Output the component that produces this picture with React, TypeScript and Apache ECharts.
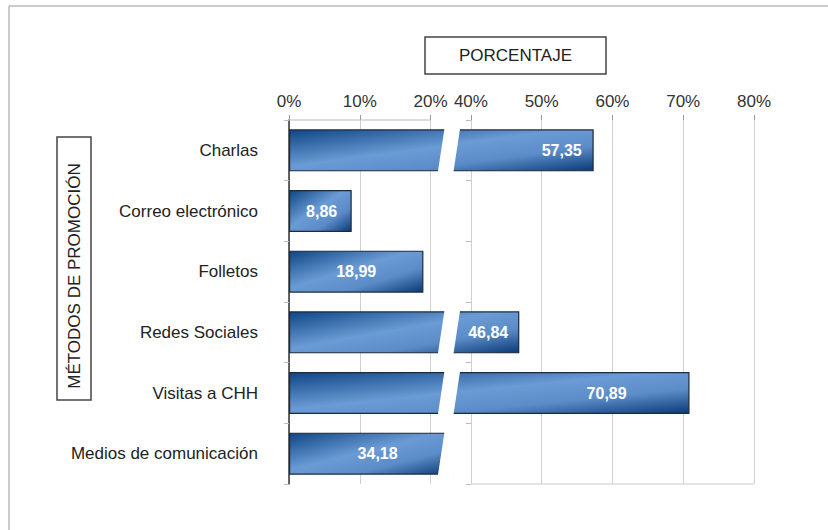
import React, { useEffect, useRef } from 'react';
import * as echarts from 'echarts';

const categories = ['Charlas', 'Correo electrónico', 'Folletos', 'Redes Sociales', 'Visitas a CHH', 'Medios de comunicación'];
const values = [57.35, 8.86, 18.99, 46.84, 70.89, 34.18];
const tickValues = [0, 10, 20, 40, 50, 60, 70, 80];
const breakStart = 21.5;
const breakEnd = 38;
const breakGap = 2.2;
const xTitle = 'PORCENTAJE';
const yTitle = 'MÉTODOS DE PROMOCIÓN';

// label placement inside each bar (style only)
const labelPos = ['89.5%', '52%', '50%', '86.5%', '79.3%', '54%'];
// vertical nudge of category labels (style only)
const catPadBottom = [18, 0, 0, 0, 0, 0];

const FONT = 'Liberation Sans, Arial, sans-serif';
const fmt = (v: number) => v.toFixed(2).replace('.', ',');

export default function App() {
  const ref = useRef<HTMLDivElement>(null);
  useEffect(() => {
    if (!ref.current) return;
    const chart = echarts.init(ref.current, null, { renderer: 'svg' });
    const barGradient = new echarts.graphic.LinearGradient(0, 0, 1, 1, [
      { offset: 0, color: '#0f4686' },
      { offset: 0.45, color: '#6a9bd4' },
      { offset: 0.7, color: '#5b8cc8' },
      { offset: 1, color: '#0a3a76' },
    ]);
    const yAxisBase = {
      type: 'category',
      data: categories.map((c, i) => ({ value: c, textStyle: { padding: [0, 0, catPadBottom[i], 0] } })),
      inverse: true,
    };
    chart.setOption({
      animation: false,
      backgroundColor: '#fff',
      textStyle: { fontFamily: FONT },
      title: {
        text: xTitle,
        left: 425,
        top: 37,
        borderColor: '#444',
        borderWidth: 1.5,
        padding: [10, 34, 10, 34],
        textStyle: { fontSize: 17, fontWeight: 'normal', color: '#222', fontFamily: FONT },
      },
      grid: { left: 289, right: 74, top: 120, bottom: 46, containLabel: false },
      xAxis: {
        type: 'value',
        position: 'top',
        min: 0,
        max: 80,
        interval: 10,
        breaks: [{ start: breakStart, end: breakEnd, gap: breakGap }],
        breakArea: { show: false, expandOnClick: false },
        axisLine: { show: false },
        axisTick: { show: true, inside: false, length: 5, lineStyle: { color: '#999' }, customValues: tickValues },
        axisLabel: {
          margin: 10,
          fontSize: 17,
          color: '#333',
          customValues: tickValues,
          formatter: (v: number) => v + '%',
        },
        splitLine: { show: true, lineStyle: { color: '#d0d0d0', width: 1 } },
      },
      yAxis: [
        {
          ...yAxisBase,
          axisLine: { show: true, lineStyle: { color: '#333', width: 1.5 } },
          axisTick: { show: true, length: 5, lineStyle: { color: '#bbb' } },
          axisLabel: { margin: 31, fontSize: 17, color: '#222' },
        },
        {
          ...yAxisBase,
          position: 'left',
          offset: 0,
          axisLine: { show: false },
          axisTick: { show: true, length: 5, lineStyle: { color: '#bbb' } },
          axisLabel: { show: false },
        },
      ],
      series: [
        {
          type: 'bar',
          barWidth: 42,
          z: 2,
          data: values.map((v, i) => ({
            value: v,
            label: { position: [labelPos[i], '50%'] },
          })),
          itemStyle: { color: barGradient, borderColor: '#1c2a3c', borderWidth: 1.2 },
          label: {
            show: true,
            color: '#fff',
            fontSize: 16,
            fontWeight: 'bold',
            fontFamily: FONT,
            align: 'center',
            verticalAlign: 'middle',
            formatter: (p: any) => fmt(p.value),
          },
        },
      ],
    });

    // pixel positions via the library's scales
    const px = (v: number) => chart.convertToPixel({ xAxisIndex: 0 }, v) as number;
    const py = (i: number) => chart.convertToPixel({ yAxisIndex: 0 }, i) as number;
    const x0 = px(0);
    const x20 = px(20);
    const x40 = px(40);
    const x80 = px(80);
    const bs = px(breakStart);
    const be = px(breakEnd);
    const gridTop = 120;
    const gridBottom = 530 - 46;
    const slant = 3;
    const half = 21;

    const cuts: any[] = [];
    values.forEach((v, i) => {
      if (v <= breakStart) return;
      const c = py(i);
      const t = c - half - 2;
      const b = c + half + 2;
      cuts.push({
        type: 'polygon',
        z: 100,
        shape: {
          points: [
            [bs + slant + 0.5, t],
            [be + slant + 0.5, t],
            [be - slant - 0.5, b],
            [bs - slant - 0.5, b],
          ],
        },
        style: { fill: '#fff', stroke: null },
      });
    });

    chart.setOption({
      yAxis: [{}, { offset: -(x40 - x0) }],
      graphic: [
        { type: 'line', z: 100, shape: { x1: 9, y1: 6, x2: 828, y2: 6 }, style: { stroke: '#bbb', lineWidth: 1.5 } },
        { type: 'line', z: 100, shape: { x1: 9, y1: 6, x2: 9, y2: 530 }, style: { stroke: '#bbb', lineWidth: 1.5 } },
        { type: 'line', z: 1, shape: { x1: x0, y1: gridTop, x2: x20, y2: gridTop }, style: { stroke: '#bbb', lineWidth: 1 } },
        { type: 'line', z: 1, shape: { x1: x40, y1: gridBottom, x2: x80, y2: gridBottom }, style: { stroke: '#ccc', lineWidth: 1 } },
        ...cuts,
        {
          type: 'rect',
          z: 100,
          shape: { x: 57, y: 137, width: 34, height: 263 },
          style: { fill: '#fff', stroke: '#444', lineWidth: 1.5 },
        },
        {
          type: 'text',
          z: 101,
          x: 74,
          y: 276,
          rotation: Math.PI / 2,
          style: {
            text: yTitle,
            fill: '#222',
            font: '17px ' + FONT,
            align: 'center',
            verticalAlign: 'middle',
          },
        },
      ],
    });
    return () => chart.dispose();
  }, []);
  return <div ref={ref} style={{ position: 'fixed', left: 0, top: 0, width: 828, height: 530 }} />;
}
